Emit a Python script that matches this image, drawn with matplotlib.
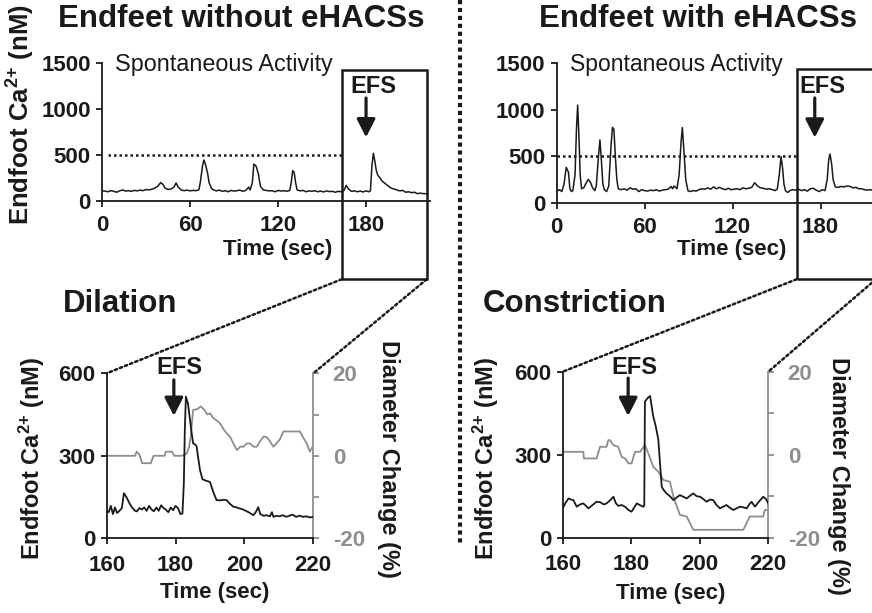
import matplotlib.pyplot as plt
from matplotlib.patches import Rectangle, ConnectionPatch
from matplotlib.lines import Line2D

plt.rcParams['font.family'] = ['Liberation Sans', 'DejaVu Sans']
plt.rcParams['font.weight'] = 'bold'
plt.rcParams['mathtext.fontset'] = 'custom'
plt.rcParams['mathtext.rm'] = 'Liberation Sans:bold'
plt.rcParams['mathtext.bf'] = 'Liberation Sans:bold'
plt.rcParams['mathtext.it'] = 'Liberation Sans:bold'

# ---- spontaneous activity, endfeet without eHACSs (time s, Ca2+ nM)
t_without = [0, 2, 4, 6, 8, 10, 12, 14, 16, 18, 20, 22, 24, 26, 28, 30, 32, 34, 36, 38,
             40, 41.5, 43, 45, 47, 49, 50.5, 52, 54, 56, 58, 60, 62, 64, 66, 67, 68.5, 69.5,
             70.5, 72, 73, 74.5, 76, 78, 80, 82, 84, 86, 88, 90, 92, 94, 96, 98, 100, 101,
             102.5, 103.5, 105, 106.5, 108, 110, 112, 114, 116, 118, 120, 122, 124, 126, 128,
             129, 130, 131, 132, 133, 135, 137, 139, 141, 143, 145, 147, 149, 151, 153, 155,
             157, 159, 161, 163, 165, 166.5, 168, 170, 172, 174, 176, 178, 180, 182, 183,
             184, 185, 186, 187, 188, 189.5, 191, 193, 195, 197, 199, 201, 203, 205, 207,
             209, 211, 213, 215, 217, 219, 222]
ca_without = [110, 108, 100, 112, 105, 95, 110, 120, 108, 112, 105, 115, 110, 118, 112, 125,
              120, 128, 140, 160, 200, 180, 140, 125, 130, 150, 195, 150, 120, 112, 118, 110,
              115, 112, 120, 200, 380, 445, 400, 300, 200, 140, 120, 110, 118, 105, 112, 100,
              115, 108, 112, 118, 105, 115, 150, 120, 200, 400, 380, 300, 160, 120, 115, 110,
              112, 100, 115, 108, 112, 105, 115, 200, 330, 310, 200, 120, 110, 115, 100, 110,
              105, 112, 100, 108, 98, 110, 102, 105, 95, 105, 100, 115, 170, 130, 105, 110,
              100, 108, 98, 110, 100, 110, 380, 517, 430, 330, 280, 250, 215, 190, 165, 140,
              130, 120, 110, 115, 95, 100, 90, 95, 80, 85, 80, 78]

# ---- spontaneous activity, endfeet with eHACSs
t_with = [0, 1, 2, 3.5, 5, 6.5, 8, 9, 10, 11, 12.5, 13.5, 14.3, 15.2, 16, 17, 18.5, 20, 21.5,
          23, 24.5, 26, 27, 28.5, 29.5, 30.5, 31.5, 32.5, 34, 35.5, 37, 38, 39, 40, 41, 42,
          44, 46, 48, 50, 52, 54, 56, 58, 60, 62, 64, 66, 68, 70, 72, 74, 76, 78, 79, 80, 82,
          83.5, 84.8, 85.7, 86.8, 88, 89.5, 91, 93, 95, 97, 99, 101, 103, 105, 107, 109, 111,
          113, 115, 117, 119, 121, 123, 125, 127, 129, 131, 133, 135, 137, 139, 141, 143,
          145, 147, 149, 150.5, 151.8, 153, 154, 155, 156, 157.5, 159, 161, 163, 165, 167,
          169, 171, 173, 175, 177, 179, 181, 183, 184.5, 185.5, 186.4, 187.5, 188.5, 190,
          192, 194, 196, 198, 200, 202, 204, 206, 208, 210, 212, 214, 216, 218, 222]
ca_with = [150, 130, 140, 120, 200, 380, 330, 150, 120, 130, 300, 800, 1050, 700, 300, 150,
           160, 210, 250, 220, 160, 130, 180, 500, 675, 450, 200, 140, 120, 180, 600, 811,
           790, 500, 250, 150, 140, 150, 135, 160, 145, 150, 120, 140, 130, 125, 135, 130,
           140, 125, 135, 140, 145, 175, 150, 180, 150, 300, 650, 808, 550, 250, 130, 120,
           130, 125, 140, 150, 145, 160, 145, 170, 150, 165, 150, 140, 155, 140, 145, 150,
           140, 160, 150, 155, 165, 215, 180, 160, 155, 145, 150, 140, 130, 150, 300, 495,
           380, 200, 130, 110, 130, 140, 135, 145, 130, 140, 125, 150, 155, 135, 120, 140,
           130, 250, 460, 524, 420, 250, 170, 165, 175, 170, 180, 175, 160, 165, 150, 150,
           140, 135, 140, 130, 135, 130]

# ---- EFS window, dilation (without eHACSs)
t_dil = [160, 160.6, 161.2, 161.8, 162.4, 163, 163.7, 164.4, 165.0, 165.8, 166.5, 167.2,
         168.2, 168.8, 169.5, 170.2, 170.9, 171.6, 172.3, 173, 173.7, 174.4, 175.1, 175.8,
         176.5, 177.2, 177.9, 178.6, 179.3, 180, 180.7, 181.4, 182.0, 182.4, 182.7, 183.0,
         183.6, 184.2, 184.7, 185.1, 185.6, 186.1, 186.6, 187.1, 187.8, 188.5, 189.2, 190.0,
         190.9, 191.9, 192.9, 193.9, 194.8, 195.8, 196.8, 197.8, 198.8, 199.7, 200.7, 201.6,
         202.6, 203.3, 204.0, 204.6, 205.5, 206.4, 207.4, 208.0, 208.4, 209.3, 210.2, 211.2,
         212.1, 213.0, 214, 215, 216, 217, 218, 219, 220]
ca_dil = [100, 95, 118, 88, 112, 92, 100, 110, 164, 148, 130, 115, 100, 98, 110, 105, 112,
          100, 118, 105, 98, 112, 100, 120, 110, 104, 95, 112, 102, 118, 110, 88, 90, 200,
          400, 515, 490, 430, 380, 345, 342, 335, 290, 248, 215, 211, 208, 205, 170, 139,
          138, 140, 139, 125, 115, 112, 108, 104, 98, 92, 84, 95, 113, 88, 82, 84, 80, 95,
          78, 82, 80, 84, 78, 82, 86, 78, 82, 78, 80, 76, 78]
t_dil_diam = [160, 168.2, 168.7, 169.5, 170.3, 172.8, 173.6, 176.8, 177.2, 179.0, 179.6,
              181.8, 183.2, 183.9, 184.4, 185.1, 186.5, 187.3, 188.5, 189.2, 190.0, 190.9,
              192.0, 192.9, 193.9, 194.8, 195.8, 196.8, 197.8, 198.8, 199.7, 200.7, 201.6,
              202.6, 203.6, 204.5, 205.5, 206.4, 207.4, 208.4, 209.3, 210.3, 211.3, 213,
              214.5, 216.1, 217, 218.1, 219, 220]
diam_dil = [0, 0, 1.0, 0.3, -1.8, -1.8, 0, 0, 1.0, 1.0, 0, 0, 0.5, 2, 4.6, 11.1, 11.4, 12,
            11, 10, 10.3, 9.2, 8.5, 7.9, 6.5, 5.5, 4.6, 3.0, 1.4, 2.2, 2.2, 3.0, 3.0, 2.2,
            2.2, 3.5, 4.6, 4.6, 3.5, 2.2, 3.0, 4.0, 5.9, 5.9, 5.9, 5.9, 4.5, 3.0, 1.0, 2.5]

# ---- EFS window, constriction (with eHACSs)
t_con = [160, 160.8, 161.7, 162.4, 163.1, 164.1, 165.0, 166.0, 166.8, 167.5, 168.7, 169.9,
         171.0, 172.0, 172.8, 173.8, 174.8, 175.5, 176.2, 177.2, 178.2, 179.2, 180.1, 180.9,
         181.6, 182.5, 183.5, 183.8, 184.0, 184.8, 185.5, 186.4, 187.2, 187.9, 188.9, 189.6,
         190.3, 191.3, 192.3, 193.2, 194.2, 195.2, 196.2, 197.2, 198.1, 199.1, 200.1, 201.0,
         202.0, 203.0, 203.9, 204.9, 205.9, 206.8, 207.8, 208.8, 209.8, 210.7, 211.7, 212.7,
         213.7, 214.4, 215.1, 216.1, 217.1, 218.5, 219.3, 220]
ca_con = [106, 125, 142, 138, 136, 112, 120, 124, 115, 106, 118, 130, 128, 120, 124, 135,
          148, 125, 115, 118, 112, 100, 94, 110, 124, 118, 112, 115, 492, 505, 512, 440, 400,
          355, 184, 170, 160, 150, 136, 145, 154, 148, 142, 152, 160, 150, 148, 140, 130,
          138, 136, 118, 106, 112, 118, 108, 100, 106, 112, 110, 106, 120, 130, 112, 128,
          148, 140, 124]
t_con_diam = [160, 166.0, 166.2, 169.9, 170.9, 172.8, 173.3, 173.8, 174.8, 176.2, 177.2,
              178.2, 179.2, 180.1, 181.1, 182.6, 184.0, 185.0, 186.4, 187.9, 189.4, 191.3,
              192.3, 194.2, 196.2, 198.1, 212.7, 214.6, 218.5, 219.0, 220]
diam_con = [0.7, 0.7, -0.9, -0.9, 1.9, 1.9, 3.5, 3.5, 2.3, 1.9, -0.5, -0.9, -2.1, -2.1, 0.7,
            0.7, 2.3, 0.3, -2.9, -4.1, -6.1, -6.5, -10.1, -14.5, -14.9, -18.1, -18.1, -14.9,
            -14.9, -13.3, -13.3]

THRESHOLD = 500
EFS_TIME = 180

W, H = 872, 613
INK = '#1a1a1a'
GRAY = '#8e8e8e'
DOTS = (0, (1, 1.2))

fig = plt.figure(figsize=(W / 100, H / 100), dpi=100)


def px_axes(x0, y0, x1, y1):
    return fig.add_axes([x0 / W, 1 - y1 / H, (x1 - x0) / W, (y1 - y0) / H])


def ftext(x, y, s, **kw):
    kw.setdefault('color', INK)
    return fig.text(x / W, 1 - y / H, s, **kw)


def style(ax, xpad, ypad):
    ax.spines['top'].set_visible(False)
    ax.spines['right'].set_visible(False)
    for s in ['left', 'bottom']:
        ax.spines[s].set_linewidth(1.3)
        ax.spines[s].set_color(INK)
    ax.tick_params(direction='out', length=4, width=1.3, labelsize=16, colors=INK)
    ax.tick_params(axis='x', pad=xpad)
    ax.tick_params(axis='y', pad=ypad)


# top panels
ax_tl = px_axes(102, 62.7, 430, 201)
ax_tr = px_axes(556.7, 63.3, 880, 202.7)
for ax, t, ca in [(ax_tl, t_without, ca_without), (ax_tr, t_with, ca_with)]:
    ax.plot(t, ca, color=INK, lw=1.1)
    ax.set_ylim(0, 1500)
    ax.set_yticks([0, 500, 1000, 1500])
    ax.set_xticks([0, 60, 120, 180])
    style(ax, 6, 4)
ax_tl.set_xlim(0, 223.6)
ax_tr.set_xlim(0, 220.5)
ax_tl.plot([4, 163.4], [THRESHOLD, THRESHOLD], color=INK, lw=1.8, ls=DOTS)
ax_tr.plot([0, 163.6], [THRESHOLD, THRESHOLD], color=INK, lw=1.8, ls=DOTS)

# zoom boxes around the EFS window
box_l = Rectangle((163.4, -849), 221.4 - 163.4, 1421 + 849, transform=ax_tl.transData,
                  fill=False, lw=1.8, ec=INK, clip_on=False)
ax_tl.add_patch(box_l)
box_r = Rectangle((163.6, -824), 217.7 - 163.6, 1435 + 824, transform=ax_tr.transData,
                  fill=False, lw=1.8, ec=INK, clip_on=False)
ax_tr.add_patch(box_r)

# bottom panels
ax_bl = px_axes(106.7, 373.3, 313.3, 538.3)
ax_br = px_axes(562.7, 371.7, 768.3, 537.7)
for ax, t, ca, td, d in [(ax_bl, t_dil, ca_dil, t_dil_diam, diam_dil),
                         (ax_br, t_con, ca_con, t_con_diam, diam_con)]:
    ax2 = ax.twinx()
    ax2.plot(td, d, color=GRAY, lw=1.3)
    ax2.set_ylim(-20, 20)
    ax2.set_yticks([-20, -10, 0, 10, 20])
    ax2.set_yticklabels(['-20', '', '0', '', '20'])
    for s in ['top', 'left', 'bottom']:
        ax2.spines[s].set_visible(False)
    ax2.spines['right'].set_color(GRAY)
    ax2.spines['right'].set_linewidth(1.3)
    ax2.tick_params(direction='out', length=4, width=1.3, labelsize=16, colors=GRAY, pad=10)

    ax.plot(t, ca, color=INK, lw=1.3)
    ax.set_xlim(160, 220)
    ax.set_ylim(0, 600)
    ax.set_xticks([160, 180, 200, 220])
    ax.set_yticks([0, 300, 600])
    style(ax, 8, 4)
    ax.set_zorder(ax2.get_zorder() + 1)
    ax.patch.set_visible(False)

# dotted connectors from boxes to zoomed panels
for axA, xyA, axB, xyB in [(ax_tl, (163.4, -849), ax_bl, (160, 600)),
                           (ax_tl, (221.4, -849), ax_bl, (220, 600)),
                           (ax_tr, (163.6, -824), ax_br, (160, 600)),
                           (ax_tr, (217.7, -824), ax_br, (220, 600))]:
    con = ConnectionPatch(xyA=xyA, coordsA=axA.transData, xyB=xyB, coordsB=axB.transData,
                          color=INK, lw=1.8, linestyle=DOTS)
    fig.add_artist(con)

# EFS arrows
arrow = dict(arrowstyle='-|>,head_length=0.55,head_width=0.28', mutation_scale=20,
             lw=2.3, color=INK, shrinkA=0, shrinkB=0)
ax_tl.annotate('', xy=(EFS_TIME, 690), xytext=(EFS_TIME, 1117), arrowprops=arrow)
ax_tr.annotate('', xy=(176, 700), xytext=(176, 1127), arrowprops=arrow)
ax_bl.annotate('', xy=(179.5, 445), xytext=(179.5, 576), arrowprops=arrow,
               annotation_clip=False)
ax_br.annotate('', xy=(179.1, 440), xytext=(179.1, 577), arrowprops=arrow,
               annotation_clip=False)

# vertical separator
fig.add_artist(Line2D([460 / W, 460 / W], [1, 1 - 545 / H], transform=fig.transFigure,
                      color=INK, lw=3, ls=(0, (1, 0.9))))

# texts
ftext(241.7, 26.7, 'Endfeet without eHACSs', fontsize=22.5, ha='center', va='baseline')
ftext(697.5, 26.7, 'Endfeet with eHACSs', fontsize=22.5, ha='center', va='baseline')
ftext(115, 71, 'Spontaneous Activity', fontsize=16.8, weight='normal', ha='left', va='baseline')
ftext(570, 71, 'Spontaneous Activity', fontsize=16.5, weight='normal', ha='left', va='baseline')
ftext(63, 311.7, 'Dilation', fontsize=22.5, ha='left', va='baseline')
ftext(483, 312.3, 'Constriction', fontsize=22.5, ha='left', va='baseline')
for x, y in [(373.5, 93.3), (822.5, 93.3), (179.5, 373.5), (634, 374.5)]:
    ftext(x, y, 'EFS', fontsize=17, ha='center', va='baseline')
for x, y in [(278, 254.5), (731.5, 254.5), (214.5, 598.3), (670.5, 599)]:
    ftext(x, y, 'Time (sec)', fontsize=16, ha='center', va='baseline')

ylab = r'Endfoot Ca$^{\mathregular{2{+}}}$ (nM)'
ftext(21, 115, ylab, fontsize=18.5, rotation=90, ha='center', va='center')
ftext(32, 458, ylab, fontsize=17, rotation=90, ha='center', va='center')
ftext(486, 458, ylab, fontsize=17, rotation=90, ha='center', va='center')
ftext(388, 458.5, 'Diameter Change (%)', fontsize=17, rotation=-90, ha='center', va='center')
ftext(838, 475.5, 'Diameter Change (%)', fontsize=17, rotation=-90, ha='center', va='center')

fig.savefig('out.png', dpi=100)
